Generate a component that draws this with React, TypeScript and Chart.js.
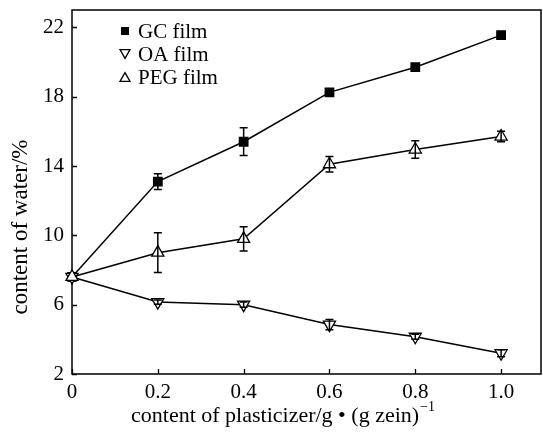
import { useEffect, useRef } from 'react';
import { Chart, registerables } from 'chart.js';

Chart.register(...registerables);

const FONT = '"Liberation Serif", "Times New Roman", serif';

const xValues = [0, 0.2, 0.4, 0.6, 0.8, 1.0];
const gcValues = [7.6, 13.1, 15.4, 18.25, 19.7, 21.55];
const gcErrors = [0, 0.45, 0.8, 0, 0, 0];
const oaValues = [7.6, 6.15, 6.0, 4.85, 4.15, 3.2];
const oaErrors = [0, 0.12, 0.15, 0.3, 0.15, 0.2];
const pegValues = [7.6, 9.0, 9.8, 14.1, 14.95, 15.7];
const pegErrors = [0, 1.15, 0.7, 0.45, 0.5, 0.3];

const xTicks = [0, 0.2, 0.4, 0.6, 0.8, 1.0];
const xTickLabels = ['0', '0.2', '0.4', '0.6', '0.8', '1.0'];
const yTicks = [2, 6, 10, 14, 18, 22];
const yTickLabels = ['2', '6', '10', '14', '18', '22'];

const seriesNames = ['GC film', 'OA film', 'PEG film'];
const xTitleMain = 'content of plasticizer/g \u2022 (g zein)';
const xTitleSup = '\u22121';
const yTitle = 'content of water/%';

const errorSets = [gcErrors, oaErrors, pegErrors];

function drawMarker(ctx: CanvasRenderingContext2D, kind: number, x: number, y: number, s: number) {
  ctx.beginPath();
  if (kind === 0) {
    ctx.rect(x - s / 2, y - s / 2, s, s);
    ctx.fillStyle = '#000';
    ctx.fill();
    return;
  }
  const h = s * 0.866;
  if (kind === 1) {
    ctx.moveTo(x - s / 2, y - h / 2);
    ctx.lineTo(x + s / 2, y - h / 2);
    ctx.lineTo(x, y + h / 2);
  } else {
    ctx.moveTo(x - s / 2, y + h / 2);
    ctx.lineTo(x + s / 2, y + h / 2);
    ctx.lineTo(x, y - h / 2);
  }
  ctx.closePath();
  ctx.fillStyle = '#fff';
  ctx.fill();
  ctx.lineWidth = 1.3;
  ctx.strokeStyle = '#000';
  ctx.stroke();
}

const framePlugin = {
  id: 'frameAndTitles',
  beforeDatasetsDraw(chart: any) {
    const { ctx, chartArea: a, scales } = chart;
    ctx.save();
    ctx.strokeStyle = '#000';
    ctx.lineWidth = 1.5;
    ctx.strokeRect(a.left, a.top, a.right - a.left, a.bottom - a.top);
    ctx.lineWidth = 1.3;
    ctx.beginPath();
    for (const v of xTicks) {
      const px = Math.round(scales.x.getPixelForValue(v)) + 0.5;
      ctx.moveTo(px, a.bottom);
      ctx.lineTo(px, a.bottom - 5);
    }
    for (const v of yTicks) {
      const py = Math.round(scales.y.getPixelForValue(v)) + 0.5;
      ctx.moveTo(a.left, py);
      ctx.lineTo(a.left + 5, py);
    }
    ctx.stroke();

    ctx.fillStyle = '#000';
    ctx.textBaseline = 'middle';
    // x title
    ctx.font = `22px ${FONT}`;
    const wMain = ctx.measureText(xTitleMain).width;
    ctx.font = `14px ${FONT}`;
    const wSup = ctx.measureText(xTitleSup).width;
    const cx = 283;
    const startX = cx - (wMain + wSup + 1) / 2;
    ctx.textAlign = 'left';
    ctx.font = `22px ${FONT}`;
    ctx.fillText(xTitleMain, startX, 416);
    ctx.font = `14px ${FONT}`;
    ctx.fillText(xTitleSup, startX + wMain + 1, 407);
    // y title
    ctx.save();
    ctx.translate(21, 227);
    ctx.rotate(-Math.PI / 2);
    ctx.textAlign = 'center';
    ctx.font = `23px ${FONT}`;
    ctx.fillText(yTitle, 0, 0);
    ctx.restore();
    ctx.restore();
  },
  afterDatasetsDraw(chart: any) {
    const { ctx, scales } = chart;
    ctx.save();
    ctx.strokeStyle = '#000';
    ctx.lineWidth = 1.5;
    const series = [gcValues, oaValues, pegValues];
    series.forEach((vals, si) => {
      const errs = errorSets[si];
      vals.forEach((v, i) => {
        const e = errs[i];
        if (!e) return;
        const px = scales.x.getPixelForValue(xValues[i]);
        const top = scales.y.getPixelForValue(v + e);
        const bot = scales.y.getPixelForValue(v - e);
        ctx.beginPath();
        ctx.moveTo(px, top);
        ctx.lineTo(px, bot);
        ctx.moveTo(px - 4, top);
        ctx.lineTo(px + 4, top);
        ctx.moveTo(px - 4, bot);
        ctx.lineTo(px + 4, bot);
        ctx.stroke();
      });
    });
    // legend
    ctx.font = `21px ${FONT}`;
    ctx.textAlign = 'left';
    ctx.textBaseline = 'middle';
    seriesNames.forEach((name, i) => {
      const y = 31 + i * 23;
      drawMarker(ctx, i, 125, y, i === 0 ? 8 : 10);
      ctx.fillStyle = '#000';
      ctx.fillText(name, 138, y + 1);
    });
    ctx.restore();
  },
};

export default function App() {
  const ref = useRef<HTMLCanvasElement | null>(null);
  useEffect(() => {
    if (!ref.current) return;
    const mk = (vals: number[]) => xValues.map((x, i) => ({ x, y: vals[i] }));
    const common = {
      borderColor: '#000',
      borderWidth: 1.5,
      pointBorderColor: '#000',
      pointBorderWidth: 1.3,
      tension: 0,
      clip: false as any,
    };
    const chart = new Chart(ref.current, {
      type: 'line',
      data: {
        datasets: [
          {
            ...common,
            label: seriesNames[0],
            data: mk(gcValues),
            pointStyle: 'rect',
            pointRadius: 6,
            pointBackgroundColor: '#000',
            order: 2,
          },
          {
            ...common,
            label: seriesNames[1],
            data: mk(oaValues),
            pointStyle: 'triangle',
            pointRotation: 180,
            pointRadius: 7,
            pointBackgroundColor: '#fff',
            order: 1,
          },
          {
            ...common,
            label: seriesNames[2],
            data: mk(pegValues),
            pointStyle: 'triangle',
            pointRadius: 7,
            pointBackgroundColor: '#fff',
            order: 0,
          },
        ],
      },
      options: {
        responsive: false,
        animation: false,
        layout: { autoPadding: false, padding: { top: 10, right: 2, left: 0, bottom: 0 } },
        plugins: { legend: { display: false }, tooltip: { enabled: false } },
        scales: {
          x: {
            type: 'linear',
            min: 0,
            max: 1.093,
            grid: { display: false, drawTicks: false },
            border: { display: false },
            afterBuildTicks: (s: any) => {
              s.ticks = xTicks.map((v) => ({ value: v }));
            },
            afterFit: (s: any) => {
              s.height = 60;
              s.paddingLeft = 0;
              s.paddingRight = 0;
            },
            ticks: {
              color: '#000',
              padding: 8,
              maxRotation: 0,
              autoSkip: false,
              font: { family: FONT, size: 21, lineHeight: 1 },
              callback: (v: any) => {
                const i = xTicks.findIndex((t) => Math.abs(t - Number(v)) < 1e-6);
                return i >= 0 ? xTickLabels[i] : '';
              },
            },
          },
          y: {
            type: 'linear',
            min: 2,
            max: 23,
            grid: { display: false, drawTicks: false },
            border: { display: false },
            afterBuildTicks: (s: any) => {
              s.ticks = yTicks.map((v) => ({ value: v }));
            },
            afterFit: (s: any) => {
              s.width = 72;
              s.paddingTop = 0;
              s.paddingBottom = 0;
            },
            ticks: {
              color: '#000',
              padding: 8,
              autoSkip: false,
              font: { family: FONT, size: 21, lineHeight: 1 },
              callback: (v: any) => {
                const i = yTicks.indexOf(Number(v));
                return i >= 0 ? yTickLabels[i] : '';
              },
            },
          },
        },
      },
      plugins: [framePlugin],
    });
    return () => chart.destroy();
  }, []);
  return (
    <div style={{ position: 'absolute', left: 0, top: 0, width: 543, height: 434, background: '#fff' }}>
      <canvas ref={ref} width={543} height={434} style={{ width: 543, height: 434, display: 'block' }} />
    </div>
  );
}
